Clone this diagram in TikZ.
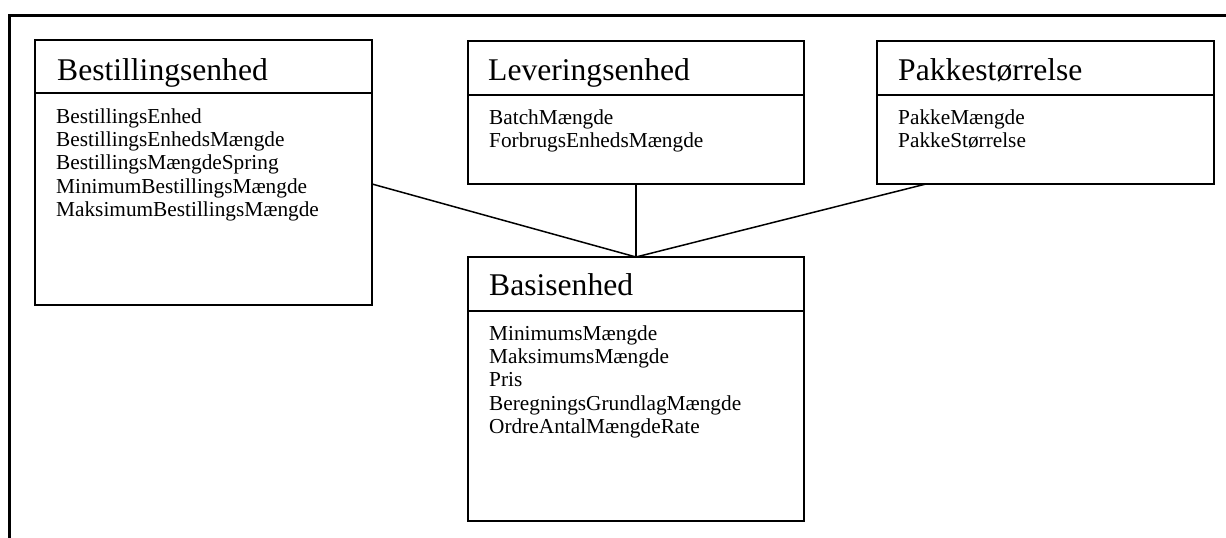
\documentclass[tikz,border=0pt]{standalone}
\usepackage{fontspec}
\setmainfont{Liberation Serif}
\begin{document}
\begin{tikzpicture}[x=1pt,y=-1pt,
  classbox/.style={draw,line width=1.5pt,rectangle,anchor=north west,inner sep=0pt,outer sep=0pt},
  divider/.style={line width=1.5pt},
  link/.style={line width=1.5pt},
  frameline/.style={line width=3pt},
  titletext/.style={anchor=base west,inner sep=0pt,font=\fontsize{31.6}{36}\selectfont},
  bodytext/.style={anchor=north west,inner sep=0pt,align=left,font=\fontsize{21.3}{23.3}\selectfont}]
\useasboundingbox (0,0) rectangle (1226,538);
% frame
\draw[frameline] (9.5,538) -- (9.5,15) -- (1226,15);
% boxes
\node[classbox,minimum width=337pt,minimum height=265pt] (best) at (35,40) {};
\node[classbox,minimum width=336pt,minimum height=143pt] (lev) at (468,41) {};
\node[classbox,minimum width=337pt,minimum height=143pt] (pak) at (877,41) {};
\node[classbox,minimum width=336pt,minimum height=264pt] (bas) at (468,257) {};
% dividers
\draw[divider] (best.west |- 0,93) -- (best.east |- 0,93);
\draw[divider] (lev.west |- 0,95) -- (lev.east |- 0,95);
\draw[divider] (pak.west |- 0,95) -- (pak.east |- 0,95);
\draw[divider] (bas.west |- 0,311) -- (bas.east |- 0,311);
% titles
\node[titletext] (bestt) at (57,80) {Bestillingsenhed};
\node[titletext] (levt) at (488,80) {Leveringsenhed};
\node[titletext] (pakt) at (898,80) {Pakkestørrelse};
\node[titletext] (bast) at (489,295) {Basisenhed};
% attributes
\node[bodytext] (besta) at (56,106.7) {\strut BestillingsEnhed\\BestillingsEnhedsMængde\\BestillingsMængdeSpring\\MinimumBestillingsMængde\\MaksimumBestillingsMængde};
\node[bodytext] (leva) at (489,107.7) {\strut BatchMængde\\ForbrugsEnhedsMængde};
\node[bodytext] (paka) at (898,107.7) {\strut PakkeMængde\\PakkeStørrelse};
\node[bodytext] (basa) at (489,323.7) {\strut MinimumsMængde\\MaksimumsMængde\\Pris\\BeregningsGrundlagMængde\\OrdreAntalMængdeRate};
% connectors
\coordinate (bestc) at (372,184);
\coordinate (pakc) at (926,184);
\draw[link] (bestc) -- (bas.north);
\draw[link] (lev.south) -- (bas.north);
\draw[link] (pakc) -- (bas.north);
\end{tikzpicture}
\end{document}
